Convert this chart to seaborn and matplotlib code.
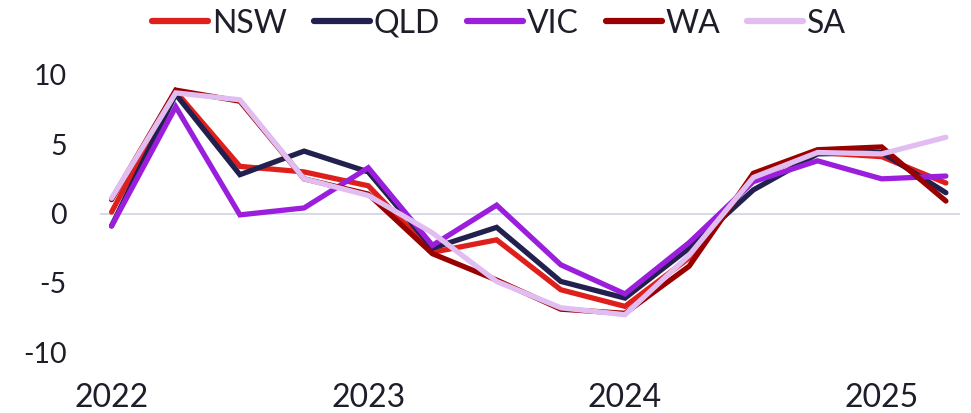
import matplotlib
matplotlib.use("Agg")
import matplotlib.pyplot as plt
import seaborn as sns
import pandas as pd

# Quarterly periods (decimal years), Q1 2022 .. Q2 2025
quarters = [2022.0, 2022.25, 2022.5, 2022.75,
            2023.0, 2023.25, 2023.5, 2023.75,
            2024.0, 2024.25, 2024.5, 2024.75,
            2025.0, 2025.25]

nsw = [0.1, 8.8, 3.4, 3.0, 2.0, -2.8, -1.9, -5.5, -6.7, -3.2, 2.6, 4.4, 4.1, 2.2]
qld = [-0.9, 8.6, 2.8, 4.5, 3.0, -2.5, -1.0, -4.9, -6.1, -2.5, 1.7, 4.3, 4.4, 1.5]
vic = [-0.9, 7.7, -0.1, 0.4, 3.3, -2.3, 0.6, -3.7, -5.8, -2.1, 2.3, 3.8, 2.5, 2.7]
wa = [1.0, 8.9, 8.1, 2.5, 1.4, -2.9, -4.8, -6.9, -7.2, -3.8, 2.9, 4.6, 4.8, 0.9]
sa = [1.1, 8.7, 8.2, 2.5, 1.3, -1.4, -4.9, -6.8, -7.3, -3.0, 2.6, 4.4, 4.3, 5.5]

states = ["NSW", "QLD", "VIC", "WA", "SA"]
colors = ["#DF1F1B", "#22204F", "#9A1EDB", "#990000", "#E2BDF2"]

year_ticks = [2022, 2023, 2024, 2025]
year_labels = ["2022", "2023", "2024", "2025"]
value_ticks = [-10, -5, 0, 5, 10]

series = {"NSW": nsw, "QLD": qld, "VIC": vic, "WA": wa, "SA": sa}
df = pd.DataFrame(
    [(q, s, v) for s in states for q, v in zip(quarters, series[s])],
    columns=["quarter", "state", "value"],
)

sns.set_theme(style="white")
plt.rcParams["font.family"] = ["Lato", "DejaVu Sans"]
text_color = "#1E1E2A"

fig = plt.figure(figsize=(9.71, 4.13), dpi=100)
ax = fig.add_axes([100 / 971, 1 - 366 / 413, 860 / 971, 305 / 413])

ax.axhline(0, color="#D6D6E6", lw=1.3, zorder=1)

sns.lineplot(
    data=df, x="quarter", y="value", hue="state", hue_order=states,
    palette=colors, linewidth=3.8, ax=ax, legend=False, zorder=3,
)
for line in ax.get_lines():
    line.set_solid_capstyle("round")
    line.set_solid_joinstyle("miter")

ax.set_xlim(2021.955, 2025.305)
ax.set_ylim(-11, 11)
ax.set_xticks(year_ticks)
ax.set_xticklabels(year_labels, fontsize=23, color=text_color)
ax.set_yticks(value_ticks)
ax.set_yticklabels([str(v) for v in value_ticks], fontsize=20.5, color=text_color)
ax.tick_params(axis="x", length=0, pad=12)
ax.tick_params(axis="y", length=0, pad=24)
ax.set_xlabel("")
ax.set_ylabel("")
for sp in ax.spines.values():
    sp.set_visible(False)

handles = [plt.Line2D([], [], color=c, lw=4.5, solid_capstyle="round") for c in colors]
fig.legend(
    handles, states, loc="center", bbox_to_anchor=(0.514, 0.943), ncol=5,
    frameon=False, handlelength=1.75, handletextpad=0.12, columnspacing=0.85,
    prop={"size": 23}, labelcolor=text_color,
)

fig.savefig("out.png", dpi=100)
